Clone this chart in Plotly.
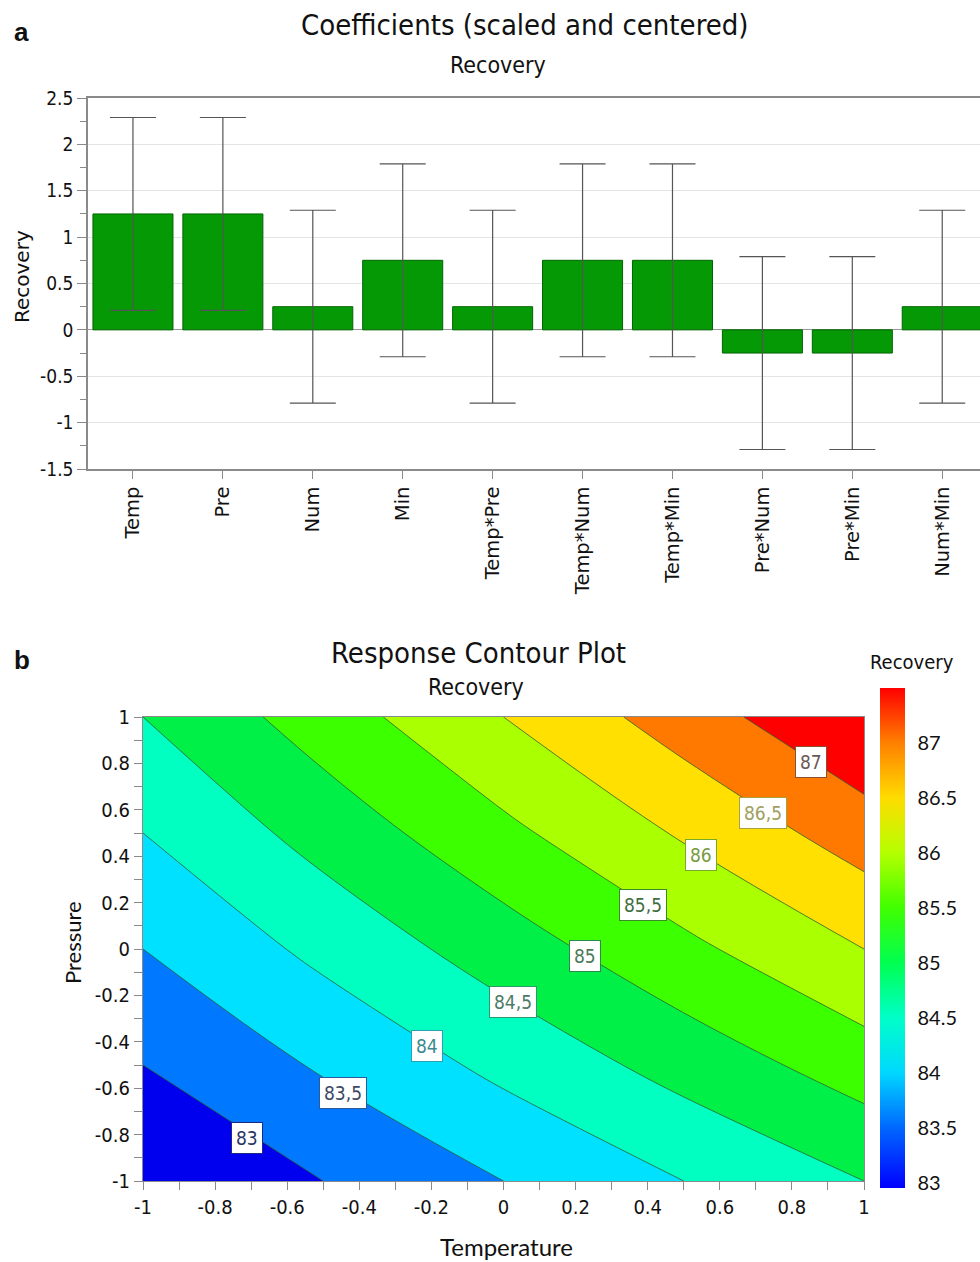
import plotly.graph_objects as go

# ---------------- data: panel a ----------------
terms = ["Temp", "Pre", "Num", "Min", "Temp*Pre", "Temp*Num", "Temp*Min",
         "Pre*Num", "Pre*Min", "Num*Min"]
coef = [1.25, 1.25, 0.25, 0.75, 0.25, 0.75, 0.75, -0.25, -0.25, 0.25]
ci_half = [1.04, 1.04, 1.04, 1.04, 1.04, 1.04, 1.04, 1.04, 1.04, 1.04]
a_yticks = [2.5, 2, 1.5, 1, 0.5, 0, -0.5, -1, -1.5]
a_yticktext = ["2.5", "2", "1.5", "1", "0.5", "0", "-0.5", "-1", "-1.5"]

# ---------------- data: panel b ----------------
temp_grid = [-1, -0.5, 0, 0.5, 1]
pres_grid = [-1, -0.5, 0, 0.5, 1]
recovery_z = [
    [82.5, 83.0, 83.5, 84.0, 84.5],      # Pressure = -1
    [83.0, 83.56, 84.13, 84.69, 85.25],  # Pressure = -0.5
    [83.5, 84.13, 84.75, 85.38, 86.0],   # Pressure = 0
    [84.0, 84.69, 85.38, 86.06, 86.75],  # Pressure = 0.5
    [84.5, 85.25, 86.0, 86.75, 87.5],    # Pressure = 1
]
b_ticks = [-1, -0.8, -0.6, -0.4, -0.2, 0, 0.2, 0.4, 0.6, 0.8, 1]
b_ticktext = ["-1", "-0.8", "-0.6", "-0.4", "-0.2", "0", "0.2", "0.4", "0.6", "0.8", "1"]
level_labels = ["83", "83,5", "84", "84,5", "85", "85,5", "86", "86,5", "87"]
label_temp = [-0.712, -0.445, -0.212, 0.026, 0.226, 0.387, 0.548, 0.72, 0.853]
label_pres = [-0.815, -0.621, -0.418, -0.228, -0.03, 0.19, 0.405, 0.586, 0.806]
cb_vals = [83, 83.5, 84, 84.5, 85, 85.5, 86, 86.5, 87]
cb_text = ["83", "83.5", "84", "84.5", "85", "85.5", "86", "86.5", "87"]

# ---------------- styles ----------------
W, H = 980, 1262
def px(x):
    return x / W
def py(y):
    return 1 - y / H

COND = "Liberation Sans Narrow, DejaVu Sans Condensed, Roboto, sans-serif"
band_colors = ["#0000ee", "#0078ff", "#00e0ff", "#00ffc0", "#00f048",
               "#3cff00", "#aaff00", "#ffe000", "#ff7800", "#ff0000"]
band_scale = [[i / 9, c] for i, c in enumerate(band_colors)]
cb_colors = ["#0000ff", "#0068ff", "#00d8ff", "#00ffc8", "#00ff50",
             "#40ff00", "#b4ff00", "#ffdc00", "#ff8000", "#ff0000"]
cb_min, cb_max = 82.95, 87.5
cb_stops = [83, 83.5, 84, 84.5, 85, 85.5, 86, 86.5, 87, 87.5]
cb_scale = [[(v - cb_min) / (cb_max - cb_min), c] for v, c in zip(cb_stops, cb_colors)]
cb_scale[0][0] = 0.0
label_font_colors = ["#2b3566", "#3c4866", "#3a8a90", "#4d7a66", "#4a7a5a",
                     "#3f6e3f", "#7a9a40", "#a0a060", "#6a5858"]
label_border_colors = ["#1a2a80", "#2a5a9a", "#2aa0b0", "#2a9a6a", "#2a8a4a",
                       "#3a8a2a", "#7aaa2a", "#aaa040", "#8a5030"]

fig = go.Figure()

fig.add_trace(go.Bar(
    x=terms, y=coef,
    marker=dict(color="#059a05", line=dict(color="#006400", width=1)),
    error_y=dict(type="data", array=ci_half, color="#555555", thickness=1.2, width=23),
    width=0.89,
    xaxis="x", yaxis="y", showlegend=False,
))

fig.add_trace(go.Contour(
    x=temp_grid, y=pres_grid, z=recovery_z,
    contours=dict(start=83, end=87, size=0.5, coloring="fill", showlines=True),
    line=dict(color="#2f5f35", width=0.8, smoothing=1.0),
    colorscale=band_scale, showscale=False,
    xaxis="x2", yaxis="y2", showlegend=False, hoverinfo="skip",
))

fig.add_trace(go.Scatter(
    x=[None], y=[None], mode="markers",
    marker=dict(color=[cb_min], cmin=cb_min, cmax=cb_max, colorscale=cb_scale,
                showscale=True,
                colorbar=dict(x=px(870), xanchor="left", xpad=10,
                              y=py(938), yanchor="middle", ypad=0,
                              len=500, lenmode="pixels", thickness=25,
                              outlinewidth=0, ticks="outside", ticklen=9,
                              tickcolor="rgba(0,0,0,0)",
                              tickvals=cb_vals, ticktext=cb_text,
                              tickfont=dict(family="Lato, Open Sans, sans-serif", size=20, color="#111"))),
    xaxis="x2", yaxis="y2", showlegend=False, hoverinfo="skip",
))

axis_line = "#8a8a8a"
fig.update_layout(
    width=W, height=H,
    margin=dict(l=0, r=0, t=0, b=0, autoexpand=False),
    paper_bgcolor="white", plot_bgcolor="white",
    xaxis=dict(domain=[px(88), 1.0], range=[-0.5, 9.42], type="category",
               showline=True, linecolor=axis_line, linewidth=1.5, mirror=True,
               ticks="outside", ticklen=8, tickcolor=axis_line, tickangle=-90,
               tickfont=dict(family="DejaVu Sans, sans-serif", size=19.5, color="#111"),
               showgrid=False, anchor="y", automargin=False),
    yaxis=dict(domain=[py(469), py(98)], range=[-1.5, 2.5],
               tickvals=a_yticks, ticktext=a_yticktext,
               showline=True, linecolor=axis_line, linewidth=1.5,
               ticks="outside", ticklen=9, tickcolor=axis_line,
               minor=dict(dtick=0.25, ticks="outside", ticklen=6, tickcolor=axis_line, showgrid=False),
               showgrid=True, gridcolor="#e4e4e4", gridwidth=1,
               zeroline=True, zerolinecolor="#9a9a9a", zerolinewidth=1.2,
               tickfont=dict(family=COND, size=19, color="#111"),
               anchor="x", automargin=False),
    xaxis2=dict(domain=[px(143), px(864)], range=[-1, 1],
                tickvals=b_ticks, ticktext=b_ticktext,
                showline=True, linecolor=axis_line, linewidth=1.2, mirror=True,
                ticks="outside", ticklen=8, tickcolor=axis_line,
                minor=dict(dtick=0.1, ticks="outside", ticklen=8, tickcolor=axis_line, showgrid=False),
                showgrid=False, zeroline=False,
                tickfont=dict(family=COND, size=20, color="#111"),
                anchor="y2", automargin=False),
    yaxis2=dict(domain=[py(1181), py(717)], range=[-1, 1],
                tickvals=b_ticks, ticktext=b_ticktext,
                showline=True, linecolor=axis_line, linewidth=1.2, mirror=True,
                ticks="outside", ticklen=8, tickcolor=axis_line,
                minor=dict(dtick=0.1, ticks="outside", ticklen=8, tickcolor=axis_line, showgrid=False),
                showgrid=False, zeroline=False,
                tickfont=dict(family=COND, size=20, color="#111"),
                anchor="x2", automargin=False),
)

ann = []
def paper_text(text, x, y, size, family=COND, bold=False, xanchor="center", angle=0):
    ann.append(dict(text=("<b>%s</b>" % text) if bold else text, x=px(x), y=py(y),
                    xref="paper", yref="paper", showarrow=False,
                    xanchor=xanchor, yanchor="middle", textangle=angle,
                    font=dict(family=family, size=size, color="#111")))

paper_text("a", 12, 32, 26, family="Liberation Sans, Arial, sans-serif", bold=True, xanchor="left")
paper_text("Coefficients (scaled and centered)", 525, 25, 29)
paper_text("Recovery", 498, 65, 23)
paper_text("Recovery", 22, 277, 20, family="DejaVu Sans, sans-serif", angle=-90)
paper_text("b", 12, 660, 26, family="Liberation Sans, Arial, sans-serif", bold=True, xanchor="left")
paper_text("Response Contour Plot", 478, 653, 29)
paper_text("Recovery", 476, 687, 23)
paper_text("Recovery", 912, 662, 20)
paper_text("Pressure", 72, 943, 22, family="Lato, Open Sans, sans-serif", angle=-90)
paper_text("Temperature", 506, 1246, 24, family="Lato, Open Sans, sans-serif")

for t, xv, yv, fc, bc in zip(level_labels, label_temp, label_pres, label_font_colors, label_border_colors):
    ann.append(dict(text=t, x=xv, y=yv, xref="x2", yref="y2", showarrow=False,
                    bgcolor="white", bordercolor=bc, borderwidth=1, borderpad=4,
                    font=dict(family=COND, size=19, color=fc)))

fig.update_layout(annotations=ann)
fig.write_html("out.html", config={"displayModeBar": False},
               post_script="document.body.style.margin='0px';document.body.style.padding='0px';")
